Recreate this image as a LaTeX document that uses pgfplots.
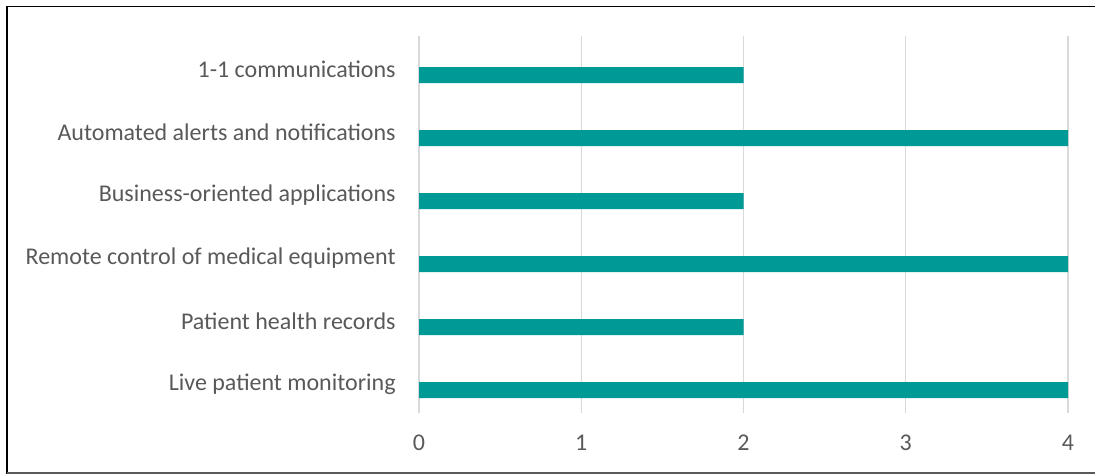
\documentclass[border=0pt]{standalone}
\usepackage{pgfplots}
\pgfplotsset{compat=1.18}
\usepackage{fontspec}
\setmainfont{Carlito}
\definecolor{barteal}{RGB}{0,154,150}
\definecolor{gridgray}{RGB}{217,217,217}
\definecolor{labelgray}{RGB}{89,89,89}
\begin{document}
\begin{tikzpicture}
\path[use as bounding box] (0,0) rectangle (821.25pt,356.25pt);
% chart frame
\draw[black, line width=1.4pt] (5.25pt,0.8pt) -- (5.25pt,351.4pt) -- (821.25pt,351.4pt);
\draw[labelgray, line width=1pt] (5.25pt,1.5pt) -- (821.25pt,1.5pt);
\begin{axis}[
  at={(314.25pt,46.5pt)}, anchor=south west,
  scale only axis,
  width=486.75pt, height=282.75pt,
  xbar, bar width=12pt,
  xmin=0, xmax=4, ymin=-0.365, ymax=5.62,
  xtick={0,1,2,3,4},
  ytick={0,1,2,3,4,5},
  yticklabels={Live patient monitoring, Patient health records, Remote control of medical equipment, Business-oriented applications, Automated alerts and notifications, 1-1 communications},
  axis line style={draw=none},
  major tick length=0pt,
  xmajorgrids, grid style={gridgray, line width=1.1pt},
  ticklabel style={font=\fontsize{18pt}{21pt}\selectfont, text=labelgray},
  /pgf/number format/assume math mode=true,
  xticklabel style={yshift=-13pt},
  yticklabel style={xshift=-14pt, yshift=4.5pt},
]
\addplot[fill=barteal, draw=none] coordinates {(4,0) (2,1) (4,2) (2,3) (4,4) (2,5)};
\end{axis}
\end{tikzpicture}
\end{document}
